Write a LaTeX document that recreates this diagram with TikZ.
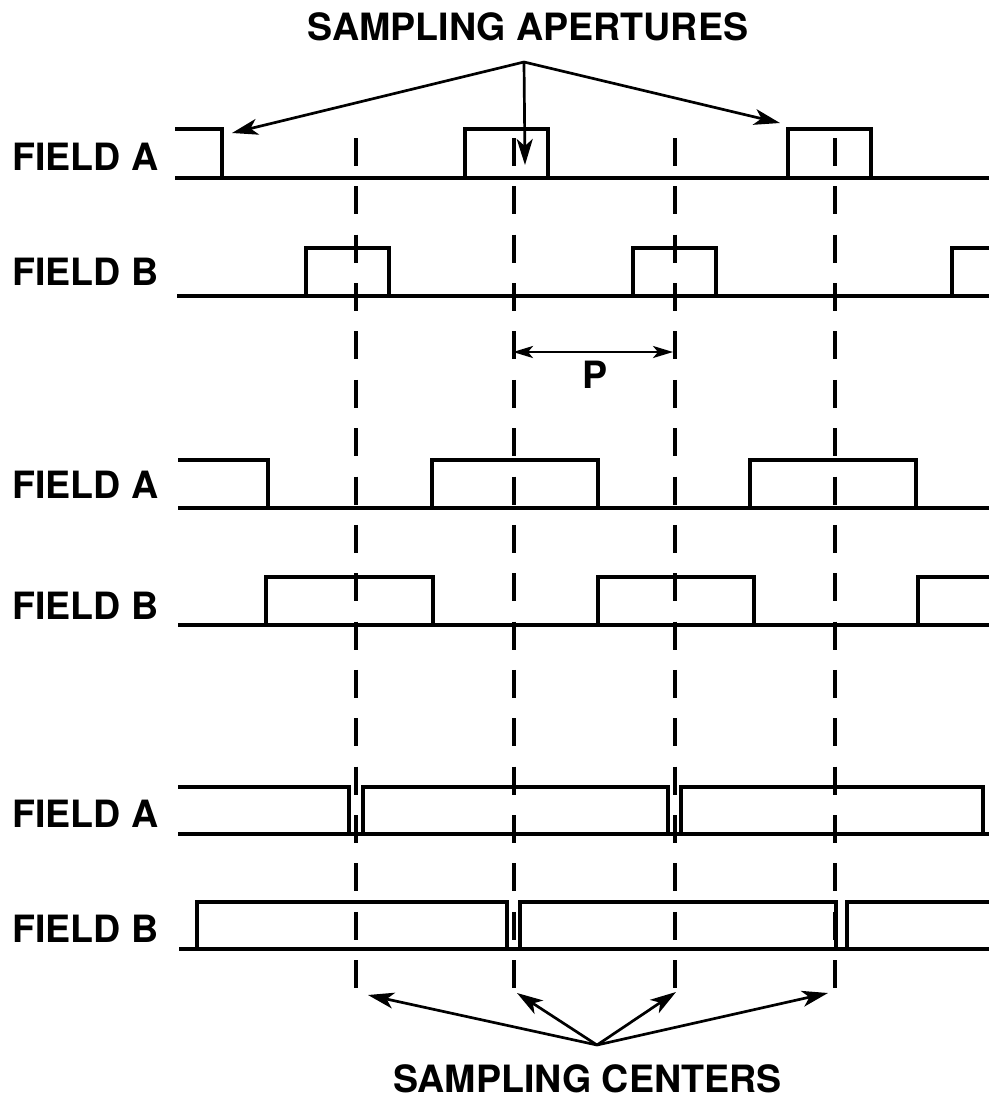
\documentclass[tikz,border=0pt]{standalone}
\usepackage{fontspec}
\setmainfont{TeX Gyre Heros}
\usetikzlibrary{arrows.meta}

\begin{document}
\begin{tikzpicture}[x=0.5pt, y=-0.5pt, line width=1.7pt,
  lbl/.style={font=\fontsize{18.8}{22}\selectfont\bfseries, inner sep=0pt},
  guide/.style={line width=1.9pt, dash pattern=on 14pt off 10.18pt},
  ptr/.style={line width=1.35pt, -{Stealth[length=13pt, width=8pt, inset=3.5pt]}},
  span/.style={line width=1.3pt, {Stealth[length=10pt, width=6pt, inset=2.5pt]}-{Stealth[length=10pt, width=6pt, inset=2.5pt]}}]
\useasboundingbox (0,0) rectangle (989,1099);

% row labels
\node[lbl, anchor=east] (fa1) at (160,156.5) {FIELD A};
\node[lbl, anchor=east] (fb1) at (160,272) {FIELD B};
\node[lbl, anchor=east] (fa2) at (160,485) {FIELD A};
\node[lbl, anchor=east] (fb2) at (160,606) {FIELD B};
\node[lbl, anchor=east] (fa3) at (160,814) {FIELD A};
\node[lbl, anchor=east] (fb3) at (160,929) {FIELD B};

% sampling centres
\foreach \x in {356,514,675,835}
  \draw[guide] (\x,138) -- (\x,988);

% field A, narrow apertures
\draw (175,178) -- (989,178);
\draw (175,129) -- (222,129) -- (222,178);
\foreach \a/\b in {465/548, 788/871}
  \draw (\a,178) -- (\a,129) -- (\b,129) -- (\b,178);

% field B, narrow apertures
\draw (177,296) -- (989,296);
\foreach \a/\b in {306/389, 633/716}
  \draw (\a,296) -- (\a,248) -- (\b,248) -- (\b,296);
\draw (952,296) -- (952,248) -- (989,248);

% field A, half apertures
\draw (178,508) -- (989,508);
\draw (178,460) -- (268,460) -- (268,508);
\foreach \a/\b in {432/598, 750/916}
  \draw (\a,508) -- (\a,460) -- (\b,460) -- (\b,508);

% field B, half apertures
\draw (178,625) -- (989,625);
\foreach \a/\b in {266/433, 598/754}
  \draw (\a,625) -- (\a,577) -- (\b,577) -- (\b,625);
\draw (918,625) -- (918,577) -- (989,577);

% field A, full apertures
\draw (178,834) -- (989,834);
\draw (178,787) -- (349,787) -- (349,834);
\foreach \a/\b in {363/668, 681/983}
  \draw (\a,834) -- (\a,787) -- (\b,787) -- (\b,834);

% field B, full apertures
\draw (179,949) -- (989,949);
\foreach \a/\b in {197/507, 520/836}
  \draw (\a,949) -- (\a,902) -- (\b,902) -- (\b,949);
\draw (847,949) -- (847,902) -- (989,902);

% period
\coordinate (pl) at (513,352);
\coordinate (pr) at (673,352);
\draw[span] (pl) -- (pr);
\node[lbl] (per) at (595,375) {P};

% top callout
\node[lbl] (apt) at (528,27) {SAMPLING APERTURES};
\coordinate (aptop) at (524,62);
\coordinate (ap1) at (232,133);
\coordinate (ap2) at (525,165);
\coordinate (ap3) at (780,123);
\foreach \t in {ap1,ap2,ap3}
  \draw[ptr] (aptop) -- (\t);

% bottom callout
\node[lbl] (cen) at (587.5,1079) {SAMPLING CENTERS};
\coordinate (cetop) at (597,1045);
\coordinate (ce1) at (368,995);
\coordinate (ce2) at (517,993);
\coordinate (ce3) at (676,992);
\coordinate (ce4) at (828,993);
\foreach \t in {ce1,ce2,ce3,ce4}
  \draw[ptr] (cetop) -- (\t);
\end{tikzpicture}
\end{document}
